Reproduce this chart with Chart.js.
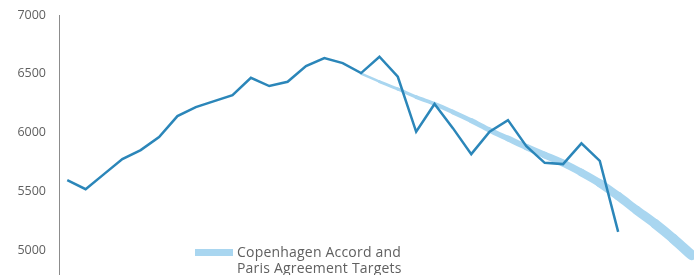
<!DOCTYPE html>
<html>
<head>
<meta charset="utf-8">
<script src="https://cdn.jsdelivr.net/npm/chart.js@4/dist/chart.umd.min.js"></script>
<style>
    html, body { margin: 0; padding: 0; background: #fff; overflow: hidden; }
    #cadre { position: relative; width: 694px; height: 330px; }
    #legende {
        position: absolute; left: 195px; top: 244px;
        font-family: "Open Sans", sans-serif; font-size: 14px; line-height: 16px;
        letter-spacing: 0.2px; color: #606060;
    }
    #legende .trait {
        position: absolute; left: 0; top: 5px; width: 38px; height: 7px; background: #a9d6f0;
    }
    #legende .texte { margin-left: 42px; white-space: nowrap; }
</style>
</head>
<body>
<div id="cadre">
    <canvas id="graphique"></canvas>
    <div id="legende">
        <span class="trait"></span>
        <div class="texte">Copenhagen Accord and<br>Paris Agreement Targets</div>
    </div>
</div>
<script>
// Données
const annees = [1990, 1991, 1992, 1993, 1994, 1995, 1996, 1997, 1998, 1999, 2000,
    2001, 2002, 2003, 2004, 2005, 2006, 2007, 2008, 2009, 2010,
    2011, 2012, 2013, 2014, 2015, 2016, 2017, 2018, 2019, 2020];
const emissions = [5596, 5519, 5647, 5775, 5851, 5962, 6140, 6217, 6268, 6319, 6466,
    6396, 6432, 6566, 6634, 6591, 6506, 6645, 6475, 6007, 6243,
    6038, 5817, 6007, 6106, 5885, 5743, 5732, 5908, 5760, 5156];

const anneesCibles = [2006, 2007, 2008, 2009, 2010, 2011, 2012, 2013, 2014, 2015,
    2016, 2017, 2018, 2019, 2020, 2021, 2022, 2023, 2024];
const cibles = [6502, 6434, 6370, 6302, 6243, 6175, 6102, 6021, 5949, 5877,
    5809, 5741, 5660, 5570, 5460, 5341, 5226, 5098, 4958];

const ticksY = [5000, 5500, 6000, 6500, 7000];

const ctx = document.getElementById("graphique").getContext("2d");

new Chart(ctx, {
    type: 'line',
    data: {
        datasets: [
            {
                label: 'Emissions',
                data: annees.map((a, i) => ({ x: a, y: emissions[i] })),
                borderColor: '#2b86b9',
                borderWidth: 2.5,
                pointRadius: 0,
                tension: 0,
                order: 0
            },
            {
                label: 'Copenhagen Accord and Paris Agreement Targets',
                data: anneesCibles.map((a, i) => ({ x: a, y: cibles[i] })),
                borderColor: '#a9d6f0',
                pointRadius: 0,
                tension: 0.3,
                borderCapStyle: 'round',
                // le trait s'épaissit vers la droite
                segment: {
                    borderWidth: c => 2 + 8 * c.p1DataIndex / (cibles.length - 1)
                },
                order: 1
            }
        ]
    },
    options: {
        responsive: true,
        maintainAspectRatio: false,
        animation: false,
        layout: { padding: { top: 15, right: 0, bottom: 21, left: 0 } },
        plugins: {
            legend: { display: false },
            tooltip: { enabled: false }
        },
        scales: {
            x: {
                type: 'linear',
                display: false,
                min: 1989.55,
                max: 2024.13
            },
            y: {
                min: 4500,
                max: 7000,
                afterFit: (scale) => {
                    scale.width = 59;
                    scale.paddingTop = 0;
                    scale.paddingBottom = 0;
                },
                afterBuildTicks: (scale) => { scale.ticks = ticksY.map(v => ({ value: v })); },
                grid: { drawOnChartArea: false, drawTicks: false },
                border: { display: true, color: '#8c8c8c', width: 1 },
                ticks: {
                    color: '#606060',
                    padding: 13,
                    font: { family: 'Open Sans', size: 12.5 },
                    callback: (val) => String(val)
                }
            }
        }
    }
});
</script>
</body>
</html>
